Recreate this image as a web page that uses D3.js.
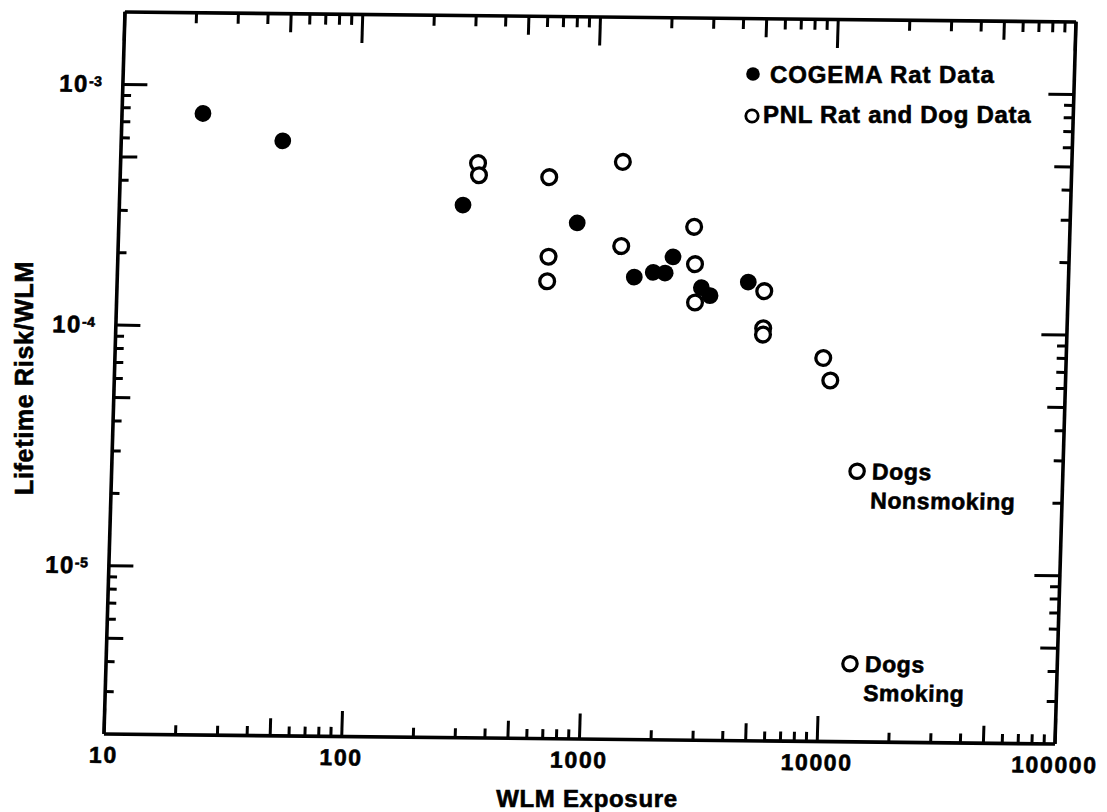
<!DOCTYPE html>
<html>
<head>
<meta charset="utf-8">
<script src="https://cdn.jsdelivr.net/npm/d3@7/dist/d3.min.js"></script>
<style>
  html, body { margin: 0; padding: 0; background: #fff; }
  svg { display: block; }
  text { font-family: "Liberation Sans", Arial, Helvetica, sans-serif; font-weight: bold; fill: #000; stroke: #000; stroke-width: 0.6px; }
</style>
</head>
<body>
<svg id="chart" width="1107" height="812"></svg>
<script>
// ---- data ----
const cogemaX = [22, 48, 280, 850, 1500, 1800, 2020, 2170, 2880, 3140, 4530];
const cogemaY = [7.6e-4, 5.9e-4, 3.25e-4, 2.77e-4, 1.66e-4, 1.74e-4, 1.73e-4, 2.02e-4, 1.51e-4, 1.40e-4, 1.60e-4];

const pnlX = [320, 324, 640, 650, 646, 1300, 1310, 2640, 2690, 2720, 5300, 5300, 5300, 9560, 10300];
const pnlY = [4.86e-4, 4.33e-4, 4.28e-4, 2.0e-4, 1.58e-4, 4.99e-4, 2.23e-4, 2.70e-4, 1.89e-4, 1.31e-4, 1.47e-4, 1.03e-4, 9.7e-5, 7.8e-5, 6.3e-5];

const dogX = [13700, 13500];
const dogY = [2.65e-5, 4.2e-6];
const dogLabels = [["Dogs", "Nonsmoking"], ["Dogs", "Smoking"]];

const xTickLabels = ["10", "100", "1000", "10000", "100000"];
const yTickBase = "10";
const yTickExponents = ["-5", "-4", "-3"];
const legendLabels = ["COGEMA Rat Data", "PNL Rat and Dog Data"];
const xTitle = "WLM Exposure";
const yTitle = "Lifetime Risk/WLM";

// ---- layout ----
const W = 951, H = 722;
const svg = d3.select("#chart");
svg.append("rect").attr("width", 1107).attr("height", 812).attr("fill", "#fff");

const x = d3.scaleLog().domain([10, 100000]).range([0, W]);
const y = d3.scaleLog().domain([2e-6, 2e-3]).range([H, 0]);

// scanned page is slightly skewed
const g = svg.append("g").attr("transform", "matrix(1,0.0105,-0.0291,1,124.5,11.5)");

const kOf = v => Math.round(v / Math.pow(10, Math.floor(Math.log10(v) + 1e-9)));
const tickLen = v => { const k = kOf(v); return k === 1 ? 25 : (k === 5 ? 17 : 9); };

const xTicks = [];
for (let e = 1; e <= 4; e++) for (let k = 1; k <= 9; k++) xTicks.push(k * Math.pow(10, e));
xTicks.push(100000);
const yTicks = [];
for (let e = -6; e <= -3; e++) for (let k = 1; k <= 9; k++) {
  const v = k * Math.pow(10, e);
  if (v > 2.05e-6 && v < 1.95e-3) yTicks.push(v);
}

const styleAxis = sel => {
  sel.select(".domain").attr("stroke", "#000").attr("stroke-width", 3.6);
  sel.selectAll(".tick line").attr("stroke", "#000").attr("stroke-width", 3);
};

// bottom
const gb = g.append("g").attr("transform", `translate(0,${H})`)
  .call(d3.axisBottom(x).tickValues(xTicks).tickSizeOuter(0).tickSizeInner(0).tickPadding(13)
    .tickFormat(d => kOf(d) === 1 ? xTickLabels[Math.round(Math.log10(d)) - 1] : ""));
gb.selectAll(".tick line").attr("y2", d => -tickLen(d));
gb.selectAll(".tick text").attr("font-size", 23).attr("letter-spacing", 1.6)
  .style("font-family", "'Liberation Sans', Arial, sans-serif").style("font-weight", "bold");
styleAxis(gb);

// top
const gt = g.append("g")
  .call(d3.axisTop(x).tickValues(xTicks).tickSizeOuter(0).tickSizeInner(0).tickFormat(() => ""));
gt.selectAll(".tick line").attr("y2", d => tickLen(d) + (kOf(d) === 1 ? 4 : 2));
styleAxis(gt);

// left
const gl = g.append("g")
  .call(d3.axisLeft(y).tickValues(yTicks).tickSizeOuter(0).tickSizeInner(0).tickPadding(20)
    .tickFormat(d => kOf(d) === 1 ? yTickBase : ""));
gl.selectAll(".tick line").attr("x2", d => tickLen(d));
gl.selectAll(".tick text").attr("font-size", 24).attr("letter-spacing", 1.5)
  .style("font-family", "'Liberation Sans', Arial, sans-serif").style("font-weight", "bold");
gl.selectAll(".tick text").filter(d => kOf(d) === 1)
  .append("tspan").attr("dy", "-0.42em").attr("dx", 0).attr("font-size", 14).attr("letter-spacing", 0.5)
  .text(d => yTickExponents[Math.round(Math.log10(d)) + 5]);
styleAxis(gl);

// right
const gr = g.append("g").attr("transform", `translate(${W},0)`)
  .call(d3.axisRight(y).tickValues(yTicks).tickSizeOuter(0).tickSizeInner(0).tickFormat(() => ""));
gr.selectAll(".tick line").attr("x2", d => -tickLen(d));
styleAxis(gr);

// COGEMA (filled)
g.append("g").selectAll("circle").data(cogemaX.map((v, i) => [v, cogemaY[i]])).join("circle")
  .attr("cx", d => x(d[0])).attr("cy", d => y(d[1])).attr("r", 8.4).attr("fill", "#000");

// PNL (open)
g.append("g").selectAll("circle").data(pnlX.map((v, i) => [v, pnlY[i]])).join("circle")
  .attr("cx", d => x(d[0])).attr("cy", d => y(d[1])).attr("r", 7.4)
  .attr("fill", "#fff").attr("stroke", "#000").attr("stroke-width", 3.3);

// Dogs
const dg = g.append("g").selectAll("g").data(dogX.map((v, i) => [v, dogY[i], dogLabels[i]])).join("g");
dg.append("circle").attr("cx", d => x(d[0])).attr("cy", d => y(d[1])).attr("r", 7.2)
  .attr("fill", "#fff").attr("stroke", "#000").attr("stroke-width", 3.2);
dg.append("text").attr("x", d => x(d[0]) + 15).attr("y", d => y(d[1]) + 8)
  .attr("font-size", 23).attr("letter-spacing", 0.6).text(d => d[2][0]);
dg.append("text").attr("x", d => x(d[0]) + 14).attr("y", d => y(d[1]) + 37)
  .attr("font-size", 23).attr("letter-spacing", 0.6).text(d => d[2][1]);

// legend (screen coordinates)
const lg = svg.append("g");
lg.append("circle").attr("cx", 753).attr("cy", 74).attr("r", 6.8).attr("fill", "#000");
lg.append("text").attr("x", 770).attr("y", 83).attr("font-size", 24).attr("letter-spacing", 0.9).text(legendLabels[0]);
lg.append("circle").attr("cx", 752).attr("cy", 116).attr("r", 6.2)
  .attr("fill", "#fff").attr("stroke", "#000").attr("stroke-width", 2.8);
lg.append("text").attr("x", 763).attr("y", 123).attr("font-size", 24).attr("letter-spacing", 0.7).text(legendLabels[1]);

// axis titles
svg.append("text").attr("x", 587).attr("y", 807).attr("text-anchor", "middle")
  .attr("font-size", 24).attr("letter-spacing", 0.7).text(xTitle);
svg.append("text").attr("transform", "translate(33,378) rotate(-90)").attr("text-anchor", "middle")
  .attr("font-size", 25).attr("letter-spacing", 0.7).text(yTitle);
</script>
</body>
</html>
